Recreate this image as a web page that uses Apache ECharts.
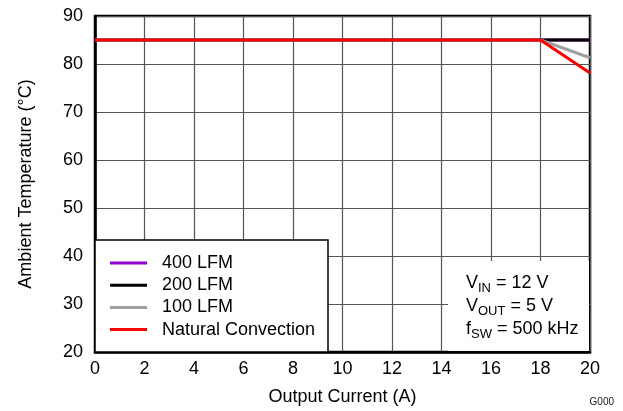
<!DOCTYPE html>
<html>
<head>
<meta charset="utf-8">
<script src="https://cdn.jsdelivr.net/npm/echarts@6/dist/echarts.min.js"></script>
<style>html,body{margin:0;padding:0;background:#fff}#c{width:623px;height:411px}</style>
</head>
<body>
<div id="c"></div>
<script>
const xValues = [0, 18, 20];
const lfm400 = [85, 85, 85];
const lfm200 = [85, 85, 85];
const lfm100 = [85, 85, 81.3];
const natural = [85, 85, 78.1];
const seriesNames = ['400 LFM', '200 LFM', '100 LFM', 'Natural Convection'];
const xTicks = {min: 0, max: 20, interval: 2};
const yTicks = {min: 20, max: 90, interval: 10};

const FONT = 'Liberation Sans, Arial, sans-serif';
const FS = 18;
const pairs = arr => xValues.map((x, i) => [x, arr[i]]);
const colors = ['#9400D3', '#000000', '#A0A0A0', '#FF0000'];
const dataSets = [lfm400, lfm200, lfm100, natural];

const chart = echarts.init(document.getElementById('c'), null, {renderer: 'canvas'});
chart.setOption({
  animation: false,
  backgroundColor: '#fff',
  grid: {left: 95, top: 16, width: 495, height: 336, show: true, borderColor: '#000', borderWidth: 2.5, backgroundColor: 'transparent'},
  xAxis: {
    type: 'value', min: xTicks.min, max: xTicks.max, interval: xTicks.interval,
    name: 'Output Current (A)', nameLocation: 'middle', nameGap: 36,
    nameTextStyle: {fontFamily: FONT, fontSize: FS, color: '#000'},
    axisLine: {show: true, lineStyle: {color: '#000', width: 2.5}},
    axisTick: {show: false},
    axisLabel: {fontFamily: FONT, fontSize: FS, color: '#000', margin: 8},
    splitLine: {show: true, lineStyle: {color: '#555', width: 1.2}}
  },
  yAxis: {
    type: 'value', min: yTicks.min, max: yTicks.max, interval: yTicks.interval,
    name: 'Ambient Temperature (°C)', nameLocation: 'middle', nameGap: 60,
    nameTextStyle: {fontFamily: FONT, fontSize: FS, color: '#000'},
    axisLine: {show: true, lineStyle: {color: '#000', width: 2.5}},
    axisTick: {show: false},
    axisLabel: {fontFamily: FONT, fontSize: FS, color: '#000', margin: 12},
    splitLine: {show: true, lineStyle: {color: '#555', width: 1.2}}
  },
  legend: {
    orient: 'vertical', left: 110, top: 254, padding: 0,
    itemWidth: 37, itemHeight: 3, itemGap: 4.2, icon: 'rect',
    data: seriesNames,
    textStyle: {fontFamily: FONT, fontSize: FS, color: '#000', lineHeight: 18, padding: [0, 0, 0, 10]},
    z: 5
  },
  graphic: [
    {type: 'rect', z: 3, shape: {x: 95, y: 240, width: 233, height: 112}, style: {fill: '#fff', stroke: '#000', lineWidth: 1.5}},
    {type: 'rect', z: 3, shape: {x: 448, y: 261, width: 141, height: 90}, style: {fill: '#fff'}},
    {type: 'text', z: 5, x: 466, y: 272, style: {
      text: '{a|V}{s|IN}{a| = 12 V}\n{a|V}{s|OUT}{a| = 5 V}\n{a|f}{s|SW}{a| = 500 kHz}',
      fill: '#000', fontFamily: FONT, fontSize: FS, textVerticalAlign: 'top',
      rich: {
        a: {fontFamily: FONT, fontSize: FS, lineHeight: 23, fill: '#000'},
        s: {fontFamily: FONT, fontSize: 13, lineHeight: 14, verticalAlign: 'bottom', fill: '#000'}
      }
    }},
    {type: 'text', z: 5, x: 614, y: 402, style: {text: 'G000', fill: '#222', fontFamily: FONT, fontSize: 10, textAlign: 'right', textVerticalAlign: 'middle'}}
  ],
  series: seriesNames.map((n, i) => ({
    name: n, type: 'line', data: pairs(dataSets[i]),
    showSymbol: false, symbol: 'none', color: colors[i],
    lineStyle: {color: colors[i], width: 3}, z: 2 + i
  }))
});
</script>
</body>
</html>
